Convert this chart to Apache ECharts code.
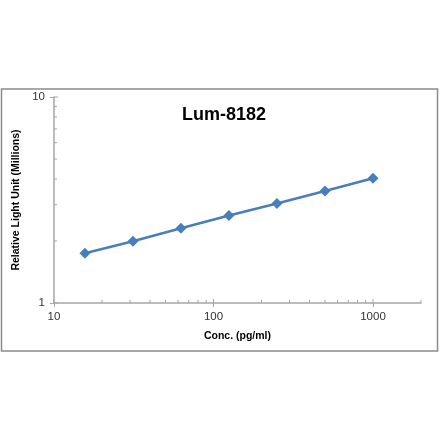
<!DOCTYPE html>
<html>
<head>
<meta charset="utf-8">
<script src="https://cdn.jsdelivr.net/npm/echarts@6/dist/echarts.min.js"></script>
<style>html,body{margin:0;padding:0;background:#fff;}#c{width:440px;height:441px;}</style>
</head>
<body>
<div id="c"></div>
<script>
const titleText = 'Lum-8182';
const xName = 'Conc. (pg/ml)';
const yName = 'Relative Light Unit (Millions)';
const concentrations = [15.625, 31.25, 62.5, 125, 250, 500, 1000];
const rlu = [1.745, 1.995, 2.307, 2.66, 3.04, 3.50, 4.03];
const xMinorTicks = [20, 30, 40, 50, 60, 70, 80, 90, 200, 300, 400, 500, 600, 700, 800, 900, 2000];
const yMinorTicks = [2, 3, 4, 5, 6, 7, 8, 9];
const xMajorTicks = [10, 100, 1000];
const yMajorTicks = [1, 10];

const chart = echarts.init(document.getElementById('c'));
const font = '"Liberation Sans", Arial, sans-serif';
const axisColor = '#a6a6a6';

const tickItems = [];
xMinorTicks.forEach(v => tickItems.push([v, 1, 'x', 3]));
yMinorTicks.forEach(v => tickItems.push([10, v, 'y', 3]));
xMajorTicks.forEach(v => tickItems.push([v, 1, 'x', 4]));
yMajorTicks.forEach(v => tickItems.push([10, v, 'y', 4]));

chart.setOption({
  animation: false,
  backgroundColor: '#fff',
  title: {
    text: titleText, left: 219, top: 101, textAlign: 'center',
    textStyle: { fontFamily: font, fontSize: 18, fontWeight: 'bold', color: '#000' }
  },
  graphic: [{
    type: 'rect', shape: { x: 1.5, y: 89, width: 436, height: 262 },
    style: { fill: 'none', stroke: '#8c8c8c', lineWidth: 1.5 }, z: -1
  }],
  grid: { left: 54, right: 19, top: 97, bottom: 138 },
  xAxis: {
    type: 'log', logBase: 10, min: 10, max: 2000,
    name: xName, nameLocation: 'middle', nameGap: 28,
    nameTextStyle: { fontFamily: font, fontSize: 10.5, fontWeight: 'bold', color: '#000' },
    axisLine: { lineStyle: { color: axisColor, width: 1.5 } },
    axisTick: { show: true, inside: false, length: 4, lineStyle: { color: axisColor } },
    minorTick: { show: false },
    splitLine: { show: false },
    axisLabel: {
      fontFamily: font, fontSize: 11.5, color: '#333', margin: 8, showMaxLabel: false,
      formatter: function (v) { return String(Math.round(v)); }
    }
  },
  yAxis: {
    type: 'log', logBase: 10, min: 1, max: 10,
    name: yName, nameLocation: 'middle', nameGap: 31,
    nameTextStyle: { fontFamily: font, fontSize: 10.5, fontWeight: 'bold', color: '#000' },
    axisLine: { show: true, lineStyle: { color: axisColor, width: 1.5 } },
    axisTick: { show: true, inside: false, length: 4, lineStyle: { color: axisColor } },
    minorTick: { show: false },
    splitLine: { show: false },
    axisLabel: {
      fontFamily: font, fontSize: 11.5, color: '#333', margin: 9,
      formatter: function (v) { return String(Math.round(v)); }
    }
  },
  series: [
    {
      type: 'custom',
      silent: true,
      clip: false,
      data: tickItems,
      encode: { x: 0, y: 1 },
      renderItem: function (params, api) {
        const p = api.coord([api.value(0), api.value(1)]);
        const dir = tickItems[params.dataIndex][2];
        const len = tickItems[params.dataIndex][3];
        const shape = dir === 'x'
          ? { x1: p[0], y1: p[1], x2: p[0], y2: p[1] - len }
          : { x1: p[0], y1: p[1], x2: p[0] + len, y2: p[1] };
        return { type: 'line', shape: shape, style: { stroke: axisColor, lineWidth: 1 } };
      },
      z: 1
    },
    {
      type: 'line',
      data: concentrations.map((c, i) => [c, rlu[i]]),
      symbol: 'diamond',
      symbolSize: 11,
      lineStyle: { color: '#4a7ebb', width: 2.5 },
      itemStyle: { color: '#4a7ebb' },
      z: 3
    }
  ]
});
</script>
</body>
</html>
